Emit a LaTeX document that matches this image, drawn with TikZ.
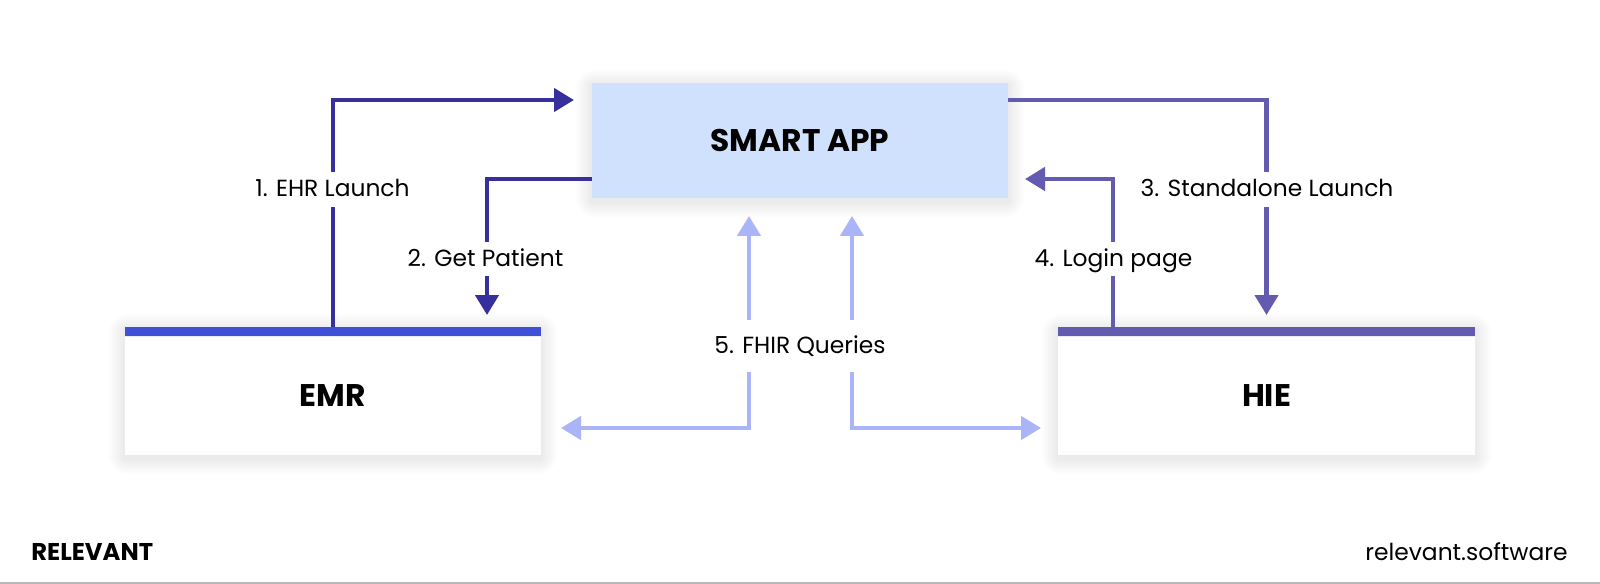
\documentclass[tikz,border=0pt]{standalone}
\usepackage{xcolor}
\usepackage{fontspec}
\setmainfont{Poppins}
\usetikzlibrary{arrows.meta,positioning,backgrounds}

\definecolor{emrarrow}{HTML}{372F9B}
\definecolor{emrbarcol}{HTML}{3D50D6}
\definecolor{hiecol}{HTML}{635BAF}
\definecolor{fhircol}{HTML}{AAB4F8}
\definecolor{smartfill}{HTML}{D0E1FD}
\definecolor{shadowcol}{HTML}{50526E}

\newcommand{\softshadow}[2]{%
  \begin{scope}[on background layer]
  \foreach \s in {1,...,10}
    \fill[shadowcol,opacity=0.0075,rounded corners=\s*0.04cm]
      ([shift={(-\s*1.6,-\s*1.6+3)}]#1.north west) rectangle ([shift={(\s*1.6,\s*1.6+3)}]#2.south east);
  \end{scope}}

\tikzset{
  box/.style={draw=none,rectangle,inner sep=0pt,font=\fontsize{17.8}{20}\selectfont\bfseries},
  topbar/.style={rectangle,inner sep=0pt,minimum width=8.32cm,minimum height=0.18cm},
  flow/.style={line width=0.09cm,-{Triangle[length=0.4cm,width=0.46cm]}},
  lbl/.style={fill=white,inner sep=0pt,text height=10pt,text depth=2pt,minimum height=0.7cm,font=\fontsize{13.3}{15}\selectfont},
}

\begin{document}
\begin{tikzpicture}[x=0.02cm,y=-0.02cm]
\useasboundingbox (0,0) rectangle (1600,584);

% boxes
\node[box,fill=smartfill,minimum width=8.32cm,minimum height=2.3cm] (smart) at (800,140.5) {SMART APP};
\node[box,fill=white,minimum width=8.32cm,minimum height=2.36cm] (emr) at (333,396) {EMR};
\node[box,fill=white,minimum width=8.34cm,minimum height=2.36cm] (hie) at (1266.5,396) {HIE};
\node[topbar,fill=emrbarcol,above=0pt of emr] (emrbar) {};
\node[topbar,fill=hiecol,above=0pt of hie,minimum width=8.34cm] (hiebar) {};

\begin{scope}[on background layer]
\fill[white] (0,0) rectangle (1600,584);
\end{scope}
\softshadow{smart}{smart}
\softshadow{emrbar}{emr}
\softshadow{hiebar}{hie}

% arrow ends
\coordinate (toapp) at (574,100);
\coordinate (frombox) at (592,179);
\coordinate (toemr) at (487,315);
\coordinate (fromapp) at (1008,100);
\coordinate (tohie) at (1266.5,315);
\coordinate (tologin) at (1025,179);
\coordinate (loginstart) at (1113,328);
\coordinate (upleft) at (749,216);
\coordinate (upright) at (852,216);
\coordinate (downleft) at (561,428);
\coordinate (downright) at (1041,428);

\draw[flow,emrarrow] (emrbar.north) |- (toapp);
\draw[flow,emrarrow] (frombox) -| (toemr);
\draw[flow,hiecol] (fromapp) -| (tohie);
\draw[flow,hiecol] (loginstart) |- (tologin);

% labels break the lines
\node[lbl] (ehrlabel) at (332.5,189.5) {1. EHR Launch};
\node[lbl] (patientlabel) at (485.5,259) {2. Get Patient};
\node[lbl] (standalonelabel) at (1267,189.5) {3. Standalone Launch};
\node[lbl] (loginlabel) at (1113.5,259) {4. Login page};
\node[lbl,minimum height=1.04cm] (fhirlabel) at (800,346) {5. FHIR Queries};

\draw[flow,fhircol] (fhirlabel.north -| upleft) -- (upleft);
\draw[flow,fhircol] (fhirlabel.north -| upright) -- (upright);
\draw[flow,fhircol] (fhirlabel.south -| upleft) |- (downleft);
\draw[flow,fhircol] (fhirlabel.south -| upright) |- (downright);

% footer
\node[anchor=west,inner sep=0pt,font=\fontsize{13.8}{16}\selectfont\bfseries] (brand) at (31,552) {RELEVANT};
\node[anchor=east,inner sep=0pt,font=\fontsize{13.3}{15}\selectfont] (site) at (1568,552) {relevant.software};
\draw[line width=0.04cm,black!28] (0,583) -- (1600,583);
\end{tikzpicture}
\end{document}
